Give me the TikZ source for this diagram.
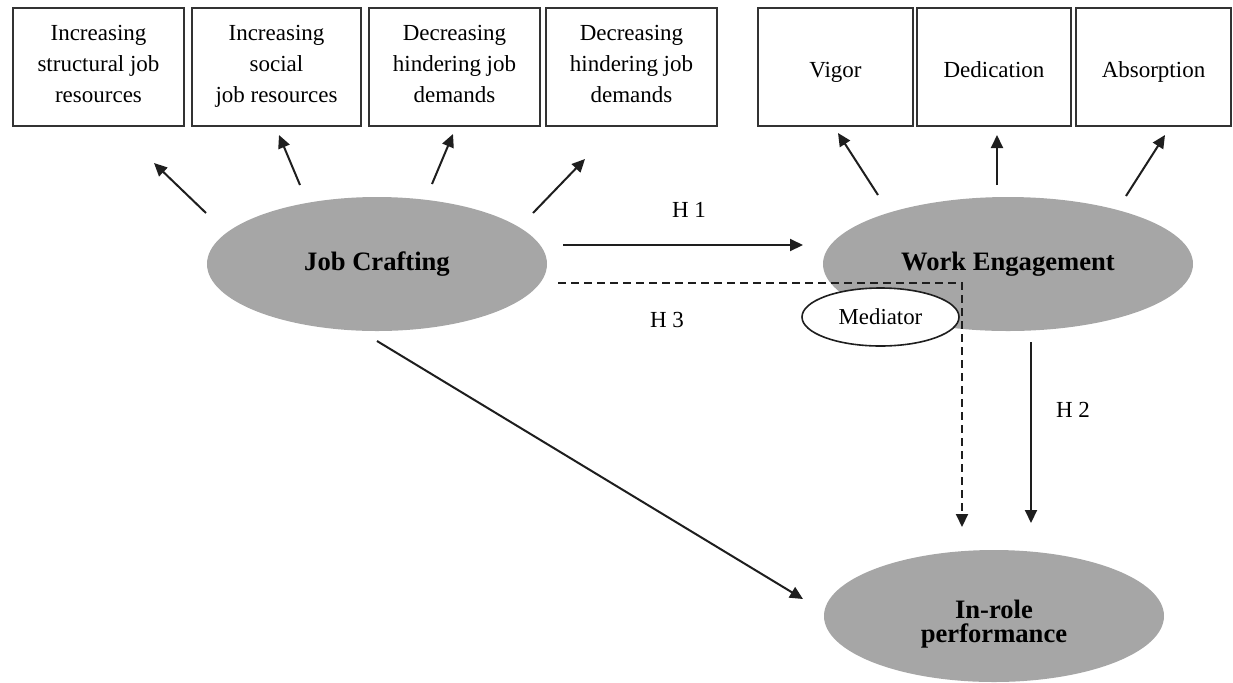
\documentclass[tikz,border=0pt]{standalone}
\usepackage{fontspec}
\setmainfont{Liberation Serif}
\usetikzlibrary{arrows.meta,shapes.geometric}
\definecolor{ellgray}{RGB}{166,166,166}
\definecolor{linec}{RGB}{30,30,30}
\begin{document}
\begin{tikzpicture}[x=0.5pt,y=-0.5pt,
 box/.style={draw=black!80,line width=1pt,fill=white,align=center,inner sep=0pt,minimum height=59pt,font=\fontsize{11.5}{15.5}\selectfont},
 multibox/.style={box,text depth=3pt},
 onebox/.style={box,text height=10.6pt,text depth=0pt},
 bigell/.style={ellipse,fill=ellgray,inner sep=0pt,align=center,font=\fontsize{13.3}{12}\selectfont\bfseries},
 medell/.style={ellipse,draw=linec,line width=0.8pt,fill=white,inner sep=0pt,font=\fontsize{11.4}{14}\selectfont},
 arr/.style={draw=linec,line width=1pt,-{Triangle[length=6.5pt,width=6pt]}},
 dasharr/.style={draw=linec,line width=1pt,dash pattern=on 4pt off 2.5pt,-{Triangle[length=6.5pt,width=6pt]}},
 lab/.style={font=\fontsize{11.5}{14}\selectfont}]
\useasboundingbox (0,0) rectangle (1233,682);
% top boxes
\node[multibox,minimum width=85.5pt] (b1) at (98.5,67) {Increasing\\structural job\\resources};
\node[multibox,minimum width=84.5pt] (b2) at (276.5,67) {Increasing\\social\\job resources};
\node[multibox,minimum width=85.5pt] (b3) at (454.5,67) {Decreasing\\hindering job\\demands};
\node[multibox,minimum width=85.5pt] (b4) at (631.5,67) {Decreasing\\hindering job\\demands};
\node[onebox,minimum width=77.5pt] (b5) at (835.5,67) {Vigor};
\node[onebox,minimum width=77pt] (b6) at (994,67) {Dedication};
\node[onebox,minimum width=77.5pt] (b7) at (1153.5,67) {Absorption};
% ellipses
\node[bigell,minimum width=170pt,minimum height=67pt] (jc) at (377,264) {Job Crafting};
\node[bigell,minimum width=185pt,minimum height=67pt] (we) at (1008,264) {Work Engagement};
\node[bigell,minimum width=170pt,minimum height=66pt,text height=29pt,text depth=2.5pt] (irp) at (994,616) {In-role\\performance};
\node[medell,minimum width=78.5pt,minimum height=29pt] (med) at (880.5,317) {Mediator};
% free ends of the arrows
\coordinate (a1s) at (206,213); \coordinate (a1e) at (154,163);
\coordinate (a2s) at (300,185); \coordinate (a2e) at (279,135);
\coordinate (a3s) at (432,184); \coordinate (a3e) at (453,134);
\coordinate (a4s) at (533,213); \coordinate (a4e) at (585,159);
\coordinate (c1s) at (878,195); \coordinate (c1e) at (838,133);
\coordinate (c2s) at (997,185); \coordinate (c2e) at (997,135);
\coordinate (c3s) at (1126,196); \coordinate (c3e) at (1165,135);
\coordinate (h1s) at (563,245); \coordinate (h1e) at (803,245);
\coordinate (h2s) at (1031,342); \coordinate (h2e) at (1031,523);
\coordinate (h3s) at (558,283); \coordinate (h3c) at (962,283); \coordinate (h3e) at (962,527);
\coordinate (ds) at (377,341); \coordinate (de) at (803,599);
% arrows
\draw[arr] (a1s) -- (a1e);
\draw[arr] (a2s) -- (a2e);
\draw[arr] (a3s) -- (a3e);
\draw[arr] (a4s) -- (a4e);
\draw[arr] (c1s) -- (c1e);
\draw[arr] (c2s) -- (c2e);
\draw[arr] (c3s) -- (c3e);
\draw[arr] (h1s) -- (h1e);
\draw[arr] (h2s) -- (h2e);
\draw[dasharr] (h3s) -- (h3c) -- (h3e);
\draw[arr] (ds) -- (de);
% labels
\node[lab] (l1) at (689,210) {H 1};
\node[lab] (l3) at (667,320) {H 3};
\node[lab] (l2) at (1073,410) {H 2};
\end{tikzpicture}
\end{document}
